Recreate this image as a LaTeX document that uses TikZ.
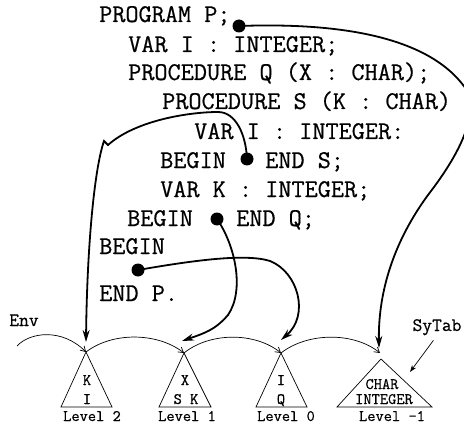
\documentclass[tikz,border=0pt]{standalone}
\usepackage{fontspec}
\setmonofont{Latin Modern Mono}[FakeBold=0.6]
\usetikzlibrary{arrows.meta}

\tikzset{
  code/.style={anchor=base west, inner sep=0pt, font=\ttfamily\fontsize{25.5}{30}\selectfont},
  bullet/.style={circle, fill, inner sep=0pt, minimum size=13pt},
  link/.style={line width=1.8pt, -{Stealth[length=12pt,width=7pt]}},
  levelarc/.style={line width=0.7pt, -{Straight Barb[length=5pt,width=6pt]}},
  pointer/.style={line width=0.7pt, -{Stealth[length=7pt,width=5pt]}},
  tribox/.style={line width=0.7pt, line join=miter},
  entry/.style={anchor=base, inner sep=0pt, font=\ttfamily\fontsize{16}{18}\selectfont},
  lvl/.style={anchor=base, inner sep=0pt, font=\ttfamily\fontsize{16}{19}\selectfont},
  tag/.style={anchor=base, inner sep=0pt, font=\ttfamily\fontsize{19}{22}\selectfont},
}

\begin{document}
\begin{tikzpicture}[x=1pt,y=-1pt]
  \useasboundingbox (0,0) rectangle (464,428);

  % program text
  \node[code] (l1)  at (99,22)   {PROGRAM P;};
  \node[code] (l2)  at (128,52)  {VAR I : INTEGER;};
  \node[code] (l3)  at (128,80)  {PROCEDURE Q (X : CHAR);};
  \node[code] (l4)  at (162,109) {PROCEDURE S (K : CHAR)};
  \node[code] (l5)  at (194,139) {VAR I : INTEGER:};
  \node[code] (l6a) at (160,168) {BEGIN};
  \node[code] (l6b) at (265,168) {END S;};
  \node[code] (l7)  at (160,197) {VAR K : INTEGER;};
  \node[code] (l8a) at (127,226) {BEGIN};
  \node[code] (l8b) at (236,226) {END Q;};
  \node[code] (l9)  at (99,254)  {BEGIN};
  \node[code] (l10) at (99,301)  {END P.};

  % scope entry points
  \node[bullet] (dP) at (239,26)  {};
  \node[bullet] (dS) at (247,159) {};
  \node[bullet] (dQ) at (217,219) {};
  \node[bullet] (dB) at (138,270) {};

  % symbol tables
  \coordinate (lv2) at (86,352);
  \coordinate (lv1) at (184,353);
  \coordinate (lv0) at (281,353);
  \coordinate (lvm) at (381,359);
  \coordinate (lvmtop) at (380,353);
  \draw[tribox] (lv2) -- (61,407) -- (112,407) -- cycle;
  \draw[tribox] (lv1) -- (159,407) -- (211,407) -- cycle;
  \draw[tribox] (lv0) -- (256,407) -- (307,407) -- cycle;
  \draw[tribox] (lvm) -- (337,407) -- (432,407) -- cycle;

  \node[entry] (k2)  at (87,385)  {K};
  \node[entry] (i2)  at (87,404)  {I};
  \node[entry] (x1)  at (185,385) {X};
  \node[entry] (sk1) at (186,404) {S K};
  \node[entry] (i0)  at (281,385) {I};
  \node[entry] (q0)  at (281,404) {Q};
  \node[entry] (chr) at (382,389) {CHAR};
  \node[entry] (int) at (384,404) {INTEGER};

  \node[lvl] (n2) at (92,421)  {Level 2};
  \node[lvl] (n1) at (187,421) {Level 1};
  \node[lvl] (n0) at (286,421) {Level 0};
  \node[lvl] (nm) at (392,421) {Level -1};

  % environment chain
  \node[tag] (env) at (24,326) {Env};
  \coordinate (envstart) at (17,346);
  \draw[levelarc] (envstart) .. controls (30,332) and (62,328) .. (lv2);
  \draw[levelarc] (lv2) .. controls (112,332) and (157,332) .. (lv1);
  \draw[levelarc] (lv1) .. controls (210,332) and (255,332) .. (lv0);
  \draw[levelarc] (lv0) .. controls (308,332) and (354,332) .. (lvmtop);

  \node[tag] (sytab) at (437,331) {SyTab};
  \coordinate (symark) at (410,372);
  \draw[pointer, shorten <=6pt] (sytab.south) -- (symark);

  % links from the code to the tables
  \coordinate (inm) at (379,348);
  \coordinate (in2) at (86,342);
  \coordinate (in1) at (182,341);
  \coordinate (in0) at (281,340);
  \draw[link] (dP.center) .. controls (350,22) and (435,40) .. (468,92)
    .. controls (478,120) and (455,160) .. (428,195)
    .. controls (395,240) and (378,290) .. (inm);
  \draw[link] (dS.center) .. controls (246,135) and (236,112) .. (218,112)
    .. controls (190,112) and (136,120) .. (108,145) -- (104,141)
    .. controls (94,170) and (87,250) .. (in2);
  \draw[link] (dQ.center) .. controls (235,245) and (245,290) .. (228,315)
    .. controls (215,330) and (205,333) .. (in1);
  \draw[link] (dB.center) .. controls (190,261) and (245,253) .. (270,261)
    .. controls (298,272) and (310,315) .. (in0);
\end{tikzpicture}
\end{document}
